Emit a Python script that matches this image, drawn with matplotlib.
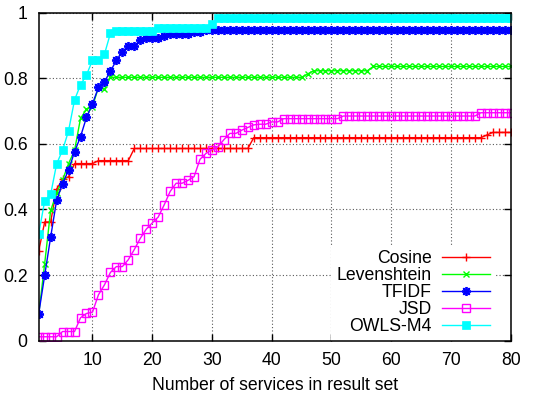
import matplotlib
matplotlib.use("Agg")
import matplotlib.pyplot as plt
import numpy as np

plt.rcParams['font.family'] = ['Liberation Sans', 'DejaVu Sans']
plt.rcParams['font.size'] = 12.7

x = list(range(1, 81))

cosine = [
    0.273, 0.362, 0.362, 0.462, 0.492, 0.500, 0.540, 0.540, 0.540, 0.540,
    0.549, 0.549, 0.549, 0.549, 0.549, 0.549, 0.586, 0.586, 0.586, 0.586,
    0.586, 0.586, 0.586, 0.586, 0.586, 0.586, 0.586, 0.586, 0.586, 0.586,
    0.586, 0.586, 0.586, 0.586, 0.586, 0.586, 0.619, 0.619, 0.619, 0.619,
    0.619, 0.619, 0.619, 0.619, 0.619, 0.619, 0.619, 0.619, 0.619, 0.619,
    0.619, 0.619, 0.619, 0.619, 0.619, 0.619, 0.619, 0.619, 0.619, 0.619,
    0.619, 0.619, 0.619, 0.619, 0.619, 0.619, 0.619, 0.619, 0.619, 0.619,
    0.619, 0.619, 0.619, 0.619, 0.619, 0.627, 0.635, 0.635, 0.635, 0.635,
]
levenshtein = [
    0.080, 0.235, 0.397, 0.450, 0.490, 0.540, 0.580, 0.678, 0.705, 0.714,
    0.772, 0.766, 0.803, 0.803, 0.803, 0.803, 0.803, 0.803, 0.803, 0.803,
    0.803, 0.803, 0.803, 0.803, 0.803, 0.803, 0.803, 0.803, 0.803, 0.803,
    0.803, 0.803, 0.803, 0.803, 0.803, 0.803, 0.803, 0.803, 0.803, 0.803,
    0.803, 0.803, 0.803, 0.803, 0.803, 0.813, 0.823, 0.823, 0.823, 0.823,
    0.823, 0.823, 0.823, 0.823, 0.823, 0.823, 0.836, 0.836, 0.836, 0.836,
    0.836, 0.836, 0.836, 0.836, 0.836, 0.836, 0.836, 0.836, 0.836, 0.836,
    0.836, 0.836, 0.836, 0.836, 0.836, 0.836, 0.836, 0.836, 0.836, 0.836,
]
tfidf = [
    0.082, 0.199, 0.316, 0.428, 0.479, 0.520, 0.576, 0.622, 0.681, 0.722,
    0.772, 0.790, 0.821, 0.855, 0.881, 0.899, 0.899, 0.916, 0.923, 0.923,
    0.923, 0.928, 0.934, 0.934, 0.936, 0.936, 0.940, 0.942, 0.946, 0.946,
    0.946, 0.946, 0.946, 0.946, 0.946, 0.946, 0.946, 0.946, 0.946, 0.946,
    0.946, 0.946, 0.946, 0.946, 0.946, 0.946, 0.946, 0.946, 0.946, 0.946,
    0.946, 0.946, 0.946, 0.946, 0.946, 0.946, 0.946, 0.946, 0.946, 0.946,
    0.946, 0.946, 0.946, 0.946, 0.946, 0.946, 0.946, 0.946, 0.946, 0.946,
    0.946, 0.946, 0.946, 0.946, 0.946, 0.946, 0.946, 0.946, 0.946, 0.946,
]
jsd = [
    0.012, 0.012, 0.012, 0.012, 0.028, 0.028, 0.028, 0.070, 0.083, 0.087,
    0.140, 0.170, 0.208, 0.226, 0.226, 0.247, 0.278, 0.312, 0.340, 0.359,
    0.377, 0.414, 0.455, 0.480, 0.480, 0.489, 0.500, 0.553, 0.571, 0.582,
    0.591, 0.613, 0.632, 0.632, 0.642, 0.650, 0.658, 0.660, 0.660, 0.667,
    0.667, 0.677, 0.677, 0.677, 0.677, 0.677, 0.677, 0.677, 0.677, 0.677,
    0.677, 0.685, 0.685, 0.685, 0.685, 0.685, 0.685, 0.685, 0.685, 0.685,
    0.685, 0.685, 0.685, 0.685, 0.685, 0.685, 0.685, 0.685, 0.685, 0.685,
    0.685, 0.685, 0.685, 0.685, 0.695, 0.695, 0.695, 0.695, 0.695, 0.695,
]
owls = [
    0.326, 0.426, 0.446, 0.539, 0.581, 0.640, 0.734, 0.780, 0.810, 0.855,
    0.855, 0.873, 0.937, 0.945, 0.945, 0.945, 0.945, 0.945, 0.945, 0.945,
    0.953, 0.953, 0.953, 0.953, 0.953, 0.953, 0.953, 0.953, 0.953, 0.967,
    0.983, 0.983, 0.983, 0.983, 0.983, 0.983, 0.983, 0.983, 0.983, 0.983,
    0.983, 0.983, 0.983, 0.983, 0.983, 0.983, 0.983, 0.983, 0.983, 0.983,
    0.983, 0.983, 0.983, 0.983, 0.983, 0.983, 0.983, 0.983, 0.983, 0.983,
    0.983, 0.983, 0.983, 0.983, 0.983, 0.983, 0.983, 0.983, 0.983, 0.983,
    0.983, 0.983, 0.983, 0.983, 0.983, 0.983, 0.983, 0.983, 0.983, 0.983,
]

labels = ["Cosine", "Levenshtein", "TFIDF", "JSD", "OWLS-M4"]
xticks = [10, 20, 30, 40, 50, 60, 70, 80]
yticks = [0, 0.2, 0.4, 0.6, 0.8, 1]
yticklabels = ["0", "0.2", "0.4", "0.6", "0.8", "1"]

fig = plt.figure(figsize=(5.37, 3.94), dpi=100)
ax = fig.add_axes([38.7/537, 1-340.7/394, (510.7-38.7)/537, (340.7-12.7)/394])

ax.plot(x, cosine, color='#ff0000', lw=1, marker='+', ms=6, mew=1, label=labels[0], zorder=3)
ax.plot(x, levenshtein, color='#00ff00', lw=1, marker='x', ms=4.5, mew=1, label=labels[1], zorder=4)
ax.plot(x, tfidf, color='#0000ff', lw=1, marker=(8, 2, 0), ms=6.5, mew=1.3, label=labels[2], zorder=5)
ax.plot(x, jsd, color='#ff00ff', lw=1, marker='s', ms=5.5, mew=1, mfc='none', label=labels[3], zorder=6)
ax.plot(x, owls, color='#00ffff', lw=1, marker='s', ms=5.5, mew=0.5, label=labels[4], zorder=7)

ax.set_xlim(1, 80)
ax.set_ylim(0, 1)
ax.set_xticks(xticks)
ax.set_yticks(yticks)
ax.set_yticklabels(yticklabels)
ax.tick_params(direction='in', length=5, width=1, top=True, right=True, pad=8, labelsize=12.7)
ax.grid(True, linestyle=(0, (1, 2)), color='0.35', lw=0.8, zorder=0)
ax.set_axisbelow(True)
for s in ax.spines.values():
    s.set_linewidth(1.1)
    s.set_zorder(10)
ax.set_xlabel("Number of services in result set", fontsize=12.7, labelpad=6)

leg = ax.legend(loc='lower right', bbox_to_anchor=(0.967, 0.0), markerfirst=False,
                frameon=True, fancybox=False, edgecolor='none', facecolor='white', framealpha=1,
                handlelength=2.7, handletextpad=0.6, labelspacing=0.0, borderpad=0.3,
                borderaxespad=0.0, fontsize=12.7)
leg.set_zorder(8)

fig.savefig("out.png", dpi=100)
